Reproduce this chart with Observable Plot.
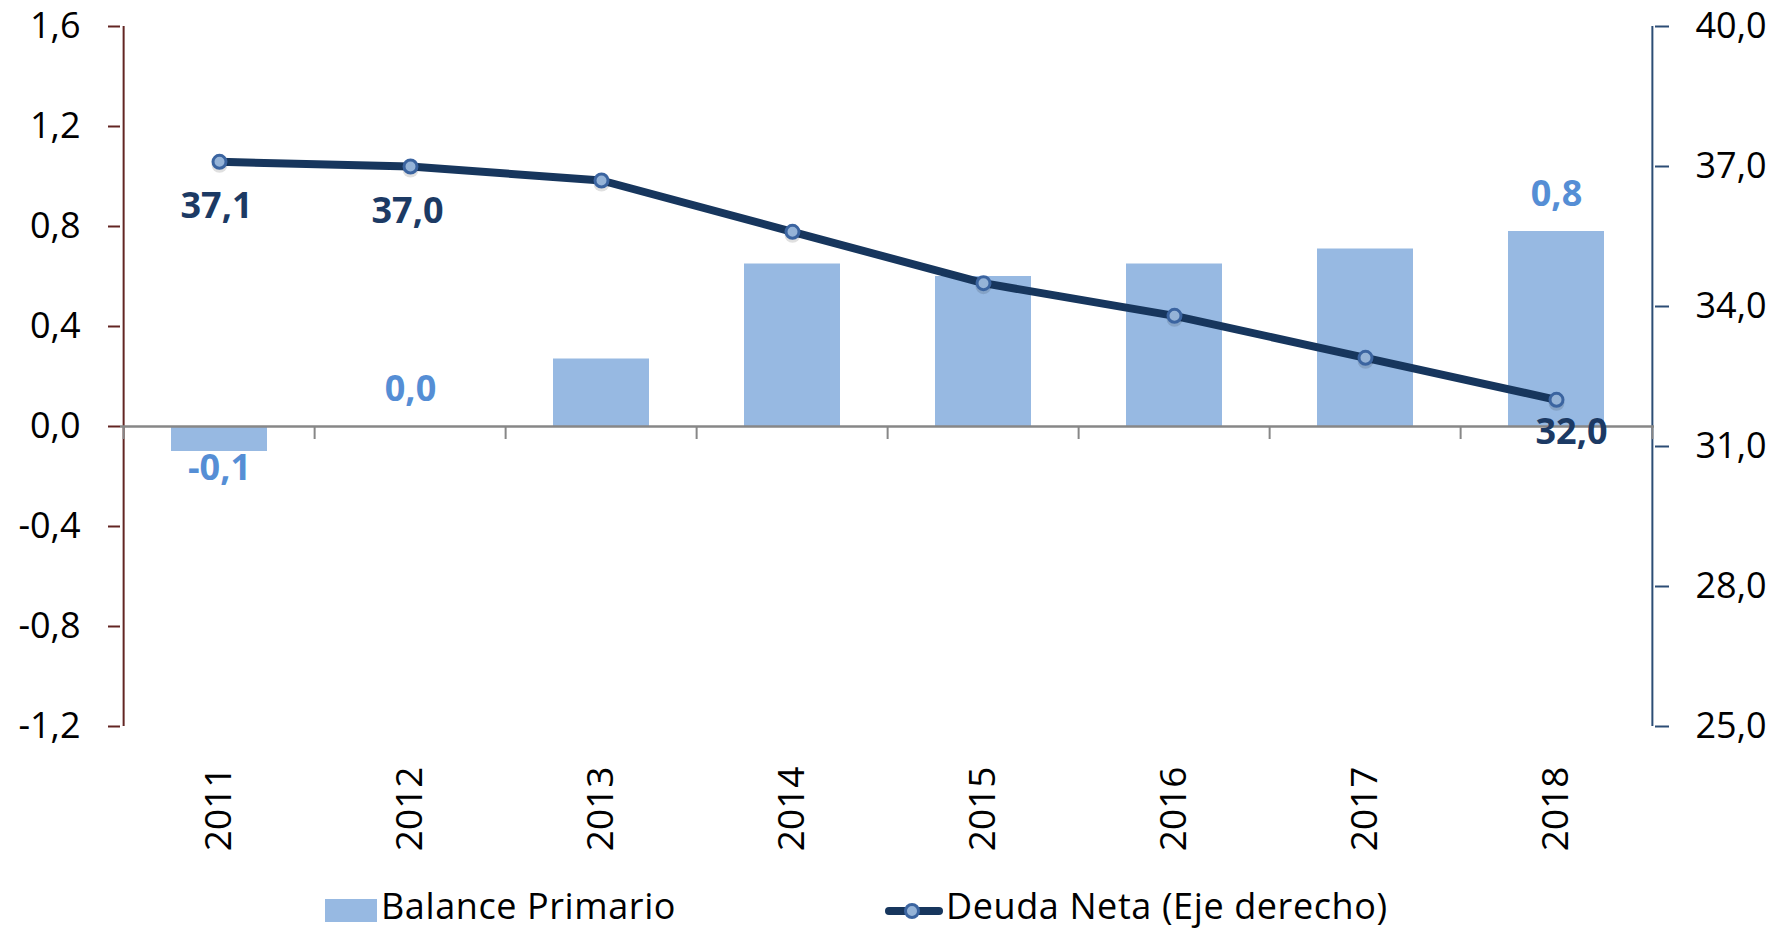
<!DOCTYPE html>
<html>
<head>
<meta charset="utf-8">
<script src="https://cdn.jsdelivr.net/npm/d3@7"></script>
<script src="https://cdn.jsdelivr.net/npm/@observablehq/plot@0.6"></script>
<style>
  html, body { margin: 0; padding: 0; background: #fff; }
  #wrap { position: relative; width: 1782px; height: 929px; overflow: hidden; font-family: "Open Sans", sans-serif; }
  #legend { position: absolute; left: 0; top: 884px; width: 1782px; height: 45px; font-size: 36px; color: #000; }
  #legend .sw { position: absolute; left: 325px; top: 15px; width: 52px; height: 23px; background: #97b9e2; }
  #legend .t { position: absolute; line-height: 36px; white-space: nowrap; letter-spacing: 0.6px; }
  g[aria-label="x-axis tick label"] { font-size: 37px; }
</style>
</head>
<body>
<div id="wrap">
  <div id="chart"></div>
  <div id="legend">
    <div class="sw"></div>
    <span class="t" style="left:381px; top:4px;">Balance Primario</span>
    <svg style="position:absolute; left:880px; top:15px;" width="68" height="24">
      <line x1="9" y1="12" x2="59" y2="12" stroke="#17365d" stroke-width="8" stroke-linecap="round"></line>
      <circle cx="32" cy="12" r="6.5" fill="#95b3d7" stroke="#3b64a0" stroke-width="3"></circle>
    </svg>
    <span class="t" style="left:946px; top:4px;">Deuda Neta (Eje derecho)</span>
  </div>
</div>
<script>
const years = ["2011", "2012", "2013", "2014", "2015", "2016", "2017", "2018"];
const balancePrimario = [-0.1, 0.0, 0.27, 0.65, 0.6, 0.65, 0.71, 0.78];
const deudaNeta = [37.1, 37.0, 36.7, 35.6, 34.5, 33.8, 32.9, 32.0];
const leftTicks = [-1.2, -0.8, -0.4, 0.0, 0.4, 0.8, 1.2, 1.6];
const rightTicks = [25, 28, 31, 34, 37, 40];
const labeledYears = ["2011", "2012", "2018"];

const leftDomain = [-1.2, 1.6];
const rightDomain = [25, 40];
const toLeft = v => leftDomain[0] + (v - rightDomain[0]) * (leftDomain[1] - leftDomain[0]) / (rightDomain[1] - rightDomain[0]);
const fromLeft = v => rightDomain[0] + (v - leftDomain[0]) * (rightDomain[1] - rightDomain[0]) / (leftDomain[1] - leftDomain[0]);
const fmt = v => (Math.abs(v) < 1e-9 ? 0 : v).toFixed(1).replace(".", ",");

const data = years.map((year, i) => ({year, balance: balancePrimario[i], deuda: deudaNeta[i]}));

const W = 1782, H = 872, mL = 120, mR = 128, mT = 26, mB = 146;
const step = (W - mL - mR) / years.length;

const first = [years[0]];
const last = [years[years.length - 1]];
const barLblPos = data.filter(d => labeledYears.includes(d.year) && d.balance >= 0);
const barLblNeg = data.filter(d => labeledYears.includes(d.year) && d.balance < 0);
const lineLblA = data.filter(d => labeledYears.includes(d.year) && d.year !== last[0]);
const lineLblB = data.filter(d => d.year === last[0]);

const chart = Plot.plot({
  width: W,
  height: H,
  marginLeft: mL,
  marginRight: mR,
  marginTop: mT,
  marginBottom: mB,
  style: {fontFamily: "Open Sans", fontSize: "36px", color: "#000", background: "#fff", overflow: "visible"},
  x: {domain: years, paddingInner: 0.5, paddingOuter: 0.25, axis: null},
  y: {domain: leftDomain, axis: null},
  marks: [
    Plot.barY(data, {x: "year", y: "balance", fill: "#97b9e2"}),
    // axis lines
    Plot.ruleX(first, {x: d => d, dx: -step / 2, stroke: "#632523", strokeWidth: 2}),
    Plot.ruleX(last, {x: d => d, dx: step / 2, stroke: "#2c4d75", strokeWidth: 2}),
    Plot.axisY({anchor: "left", ticks: leftTicks, tickFormat: fmt, tickSize: 12, tickPadding: 28, stroke: "#632523", strokeWidth: 2, fill: "#000", label: null}),
    Plot.axisY({anchor: "right", ticks: rightTicks.map(toLeft), tickFormat: d => fmt(fromLeft(d)), tickSize: 14, tickPadding: 27, stroke: "#2c4d75", strokeWidth: 2, fill: "#000", label: null}),
    Plot.axisX({anchor: "bottom", tickSize: 0, tickRotate: -90, tickPadding: 40, fill: "#000", label: null}),
    // zero line & category ticks
    Plot.ruleY([0], {stroke: "#878787", strokeWidth: 2.5}),
    Plot.ruleX(years, {x: d => d, y1: 0, y2: 0, insetBottom: -13, dx: -step / 2, stroke: "#878787", strokeWidth: 2}),
    Plot.ruleX(last, {x: d => d, y1: 0, y2: 0, insetBottom: -13, dx: step / 2, stroke: "#878787", strokeWidth: 2}),
    // line
    Plot.line(data, {x: "year", y: d => toLeft(d.deuda), stroke: "#17365d", strokeWidth: 8, strokeLinejoin: "round"}),
    Plot.dot(data, {x: "year", y: d => toLeft(d.deuda), dy: 3, r: 8, fill: "rgba(0,0,0,0.12)", stroke: "none"}),
    Plot.dot(data, {x: "year", y: d => toLeft(d.deuda), r: 6.5, fill: "#95b3d7", stroke: "#3b64a0", strokeWidth: 3}),
    // labels
    Plot.text(barLblPos, {x: "year", y: "balance", text: d => fmt(d.balance), dy: -37, fill: "#558ed5", fontWeight: "bold", fontSize: 36}),
    Plot.text(barLblNeg, {x: "year", y: "balance", text: d => fmt(d.balance), dy: 17, fill: "#558ed5", fontWeight: "bold", fontSize: 36}),
    Plot.text(lineLblA, {x: "year", y: d => toLeft(d.deuda), text: d => fmt(d.deuda), dx: -3, dy: 45, fill: "#1c3a64", fontWeight: "bold", fontSize: 36}),
    Plot.text(lineLblB, {x: "year", y: d => toLeft(d.deuda), text: d => fmt(d.deuda), dx: 15, dy: 33, fill: "#1c3a64", fontWeight: "bold", fontSize: 36})
  ]
});
document.getElementById("chart").appendChild(chart);
</script>
</body>
</html>
